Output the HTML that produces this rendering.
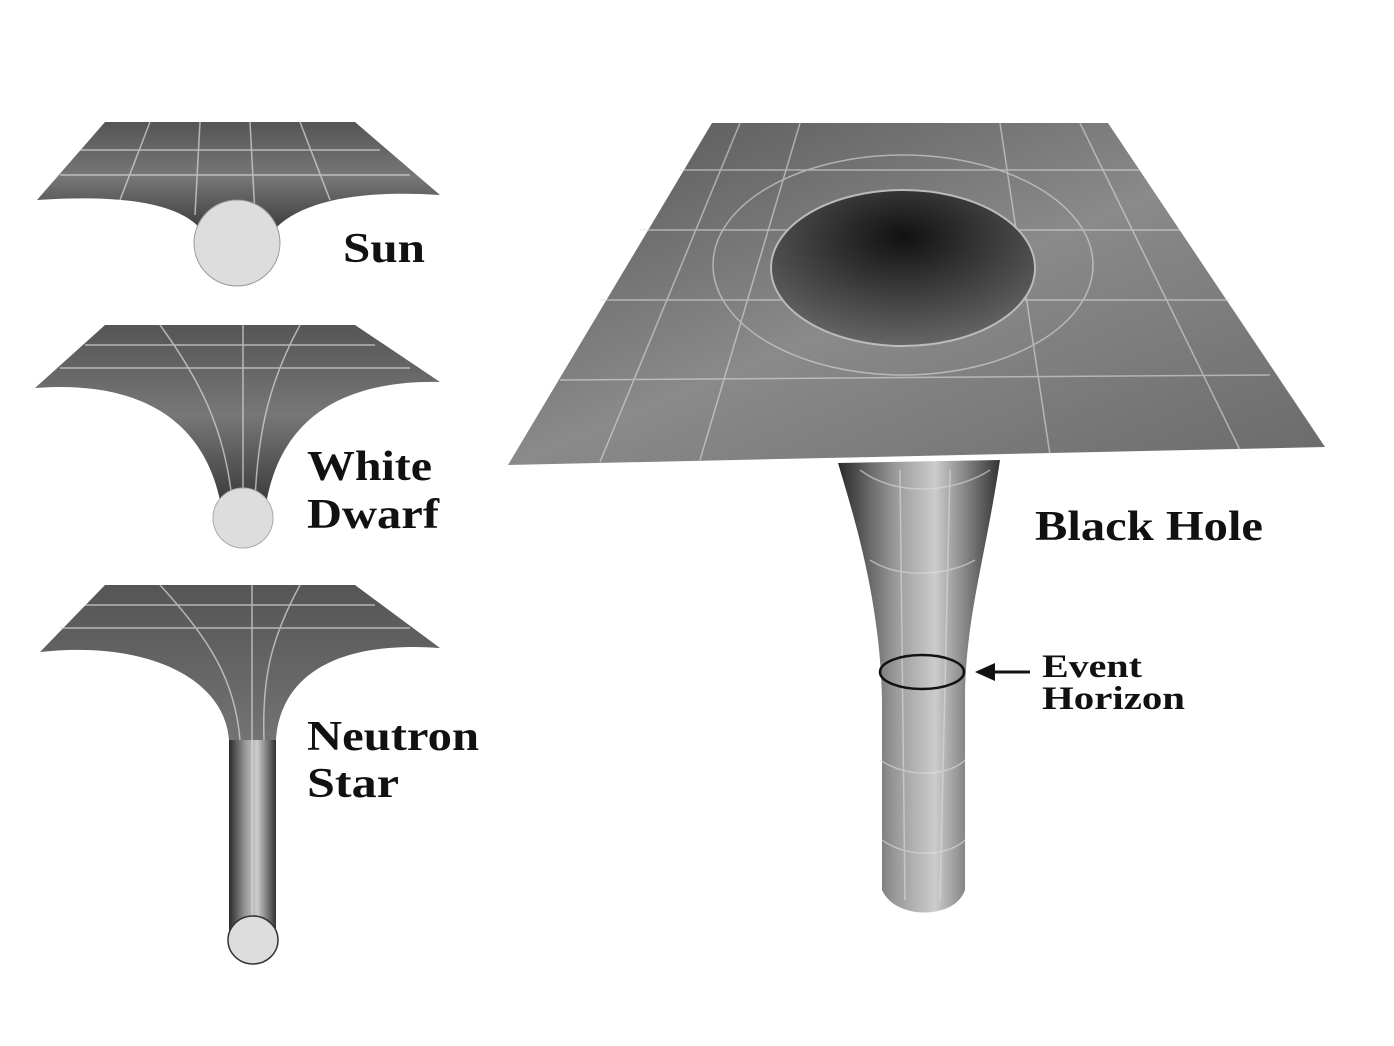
<!DOCTYPE html>
<html><head><meta charset="utf-8"><style>
html,body{margin:0;padding:0;background:#fff;}
svg{display:block;}
text{font-family:"Liberation Serif",serif;font-weight:bold;fill:#111;}
</style></head><body>
<svg width="1394" height="1046" viewBox="0 0 1394 1046">
<defs>
<linearGradient id="g1" x1="0" y1="0" x2="0" y2="1"><stop offset="0" stop-color="#555"/><stop offset="0.5" stop-color="#777"/><stop offset="1" stop-color="#3a3a3a"/></linearGradient>
<linearGradient id="gh" x1="0" y1="0" x2="1" y2="0"><stop offset="0" stop-color="#2a2a2a"/><stop offset="0.35" stop-color="#999"/><stop offset="0.6" stop-color="#ccc"/><stop offset="1" stop-color="#333"/></linearGradient>
<linearGradient id="gp" x1="0" y1="0" x2="1" y2="1"><stop offset="0" stop-color="#555"/><stop offset="0.5" stop-color="#8a8a8a"/><stop offset="1" stop-color="#6a6a6a"/></linearGradient>
<radialGradient id="gholeIn" cx="0.5" cy="0.3" r="0.7"><stop offset="0" stop-color="#111"/><stop offset="1" stop-color="#666"/></radialGradient>
</defs>

<g>
<path d="M105,122 L355,122 L440,195 C360,190 300,200 272,232 L203,232 C180,200 110,195 37,200 Z" fill="url(#g1)"/>
<g stroke="#ddd" stroke-width="1.5" fill="none" opacity="0.7">
<path d="M80,150 L380,150"/><path d="M60,175 L410,175"/>
<path d="M150,122 L120,200"/><path d="M200,122 L195,215"/><path d="M250,122 L255,215"/><path d="M300,122 L330,200"/>
</g>
<circle cx="237" cy="243" r="43" fill="#ddd" stroke="#999" stroke-width="1"/>
</g>
<text x="343" y="262" font-size="42" textLength="82" lengthAdjust="spacingAndGlyphs">Sun</text>

<g>
<path d="M105,325 L355,325 L440,382 C340,380 280,420 266,505 L221,505 C205,420 140,380 35,388 Z" fill="url(#g1)"/>
<g stroke="#ddd" stroke-width="1.5" fill="none" opacity="0.7">
<path d="M85,345 L375,345"/><path d="M60,368 L410,368"/>
<path d="M160,325 C200,380 225,430 232,500"/><path d="M300,325 C270,380 258,430 255,500"/><path d="M243,325 L243,495"/>
</g>
<circle cx="243" cy="518" r="30" fill="#ddd" stroke="#aaa" stroke-width="1"/>
</g>
<text x="307" y="480" font-size="42" textLength="125" lengthAdjust="spacingAndGlyphs">White</text>
<text x="307" y="528" font-size="42" textLength="132" lengthAdjust="spacingAndGlyphs">Dwarf</text>

<g>
<path d="M105,585 L355,585 L440,648 C330,640 280,680 276,740 L276,940 L229,940 L229,740 C225,680 150,640 40,652 Z" fill="url(#g1)"/>
<rect x="229" y="740" width="47" height="200" fill="url(#gh)"/>
<g stroke="#ddd" stroke-width="1.5" fill="none" opacity="0.7">
<path d="M85,605 L375,605"/><path d="M60,628 L410,628"/>
<path d="M160,585 C210,640 235,680 240,740"/><path d="M300,585 C270,640 262,680 264,740"/><path d="M252,585 L252,930"/>
</g>
<ellipse cx="253" cy="940" rx="25" ry="24" fill="#ddd" stroke="#333" stroke-width="1.5"/>
</g>
<text x="307" y="750" font-size="42" textLength="172" lengthAdjust="spacingAndGlyphs">Neutron</text>
<text x="307" y="797" font-size="42" textLength="92" lengthAdjust="spacingAndGlyphs">Star</text>

<g>
<path d="M838,463 L1000,460 C985,560 965,620 965,700 L965,890 C955,920 895,920 882,890 L882,700 C880,600 855,520 838,463 Z" fill="url(#gh)"/>
<path d="M712,123 L1108,123 L1325,447 L508,465 Z" fill="url(#gp)"/>
<g stroke="#ddd" stroke-width="1.5" fill="none" opacity="0.6">
<path d="M680,170 L1140,170"/><path d="M640,230 L1180,230"/><path d="M600,300 L1230,300"/><path d="M560,380 L1270,375"/>
<path d="M800,123 L700,460"/><path d="M1000,123 L1050,455"/><path d="M1080,123 L1240,450"/><path d="M740,123 L600,462"/>
<ellipse cx="903" cy="265" rx="190" ry="110"/>
<path d="M860,470 C900,500 960,490 990,470"/><path d="M870,560 C900,580 950,575 975,560"/><path d="M880,760 C910,780 950,775 965,760"/><path d="M882,840 C910,860 950,855 965,840"/>
<path d="M900,470 L905,900"/><path d="M950,470 L940,900"/>
</g>
<ellipse cx="903" cy="268" rx="132" ry="78" fill="url(#gholeIn)" stroke="#bbb" stroke-width="2"/>
<ellipse cx="922" cy="672" rx="42" ry="17" fill="none" stroke="#111" stroke-width="2.5"/>
</g>
<text x="1035" y="540" font-size="42" textLength="228" lengthAdjust="spacingAndGlyphs">Black Hole</text>
<g>
<line x1="990" y1="672" x2="1030" y2="672" stroke="#111" stroke-width="3"/>
<polygon points="975,672 995,663 995,681" fill="#111"/>
</g>
<text x="1042" y="677" font-size="33" textLength="100" lengthAdjust="spacingAndGlyphs">Event</text>
<text x="1042" y="709" font-size="33" textLength="143" lengthAdjust="spacingAndGlyphs">Horizon</text>
</svg>
</body></html>
